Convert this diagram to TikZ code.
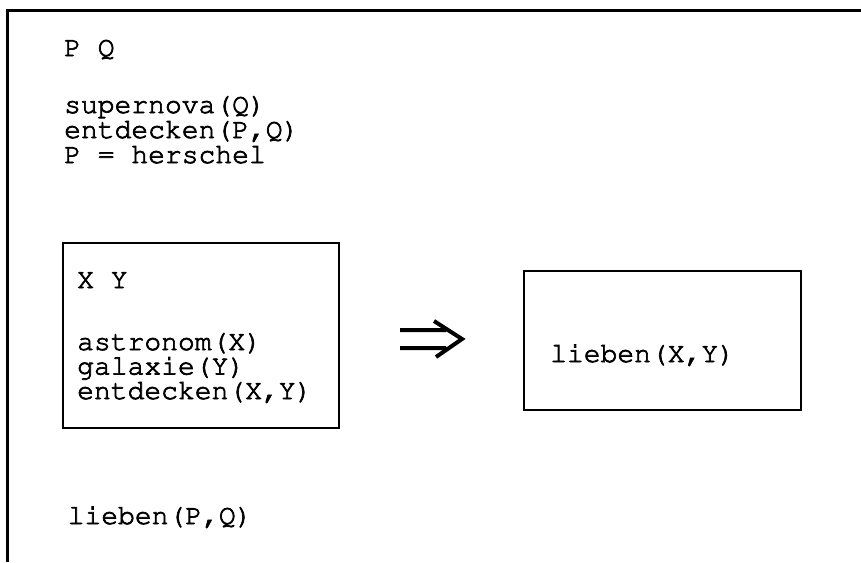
\documentclass[tikz,border=0pt]{standalone}
\usepackage[T1]{fontenc}
\usepackage{courier}
\usetikzlibrary{positioning}
\tikzset{drsbox/.style={draw,line width=2.2pt,inner sep=0pt,anchor=north west},
	drstext/.style={font=\ttfamily\fontsize{28}{24.8}\selectfont,inner sep=0pt,anchor=base west,
		execute at begin node={\special{pdf:literal direct 2 Tr 0.7 w}},
		execute at end node={\special{pdf:literal direct 0 Tr}}},
	implies/.style={line width=4pt}}

\begin{document}
\begin{tikzpicture}[x=1pt,y=-1pt]
\useasboundingbox (0,0) rectangle (861,562);
\draw[line width=3pt] (7,562) -- (7,10) -- (861,10);
\node[drstext] (univ) at (64,56) {P Q};
\node[drstext] (cond1) at (64,113) {supernova(Q)};
\node[drstext] (cond2) at (64,138) {entdecken(P,Q)};
\node[drstext] (cond3) at (64,163) {P = herschel};
\node[drsbox,minimum width=276pt,minimum height=185pt] (ante) at (62,242) {};
\node[drstext] (anteU) at (77,288) {X Y};
\node[drstext] (ante1) at (77,350) {astronom(X)};
\node[drstext] (ante2) at (77,374.5) {galaxie(Y)};
\node[drstext] (ante3) at (77,399) {entdecken(X,Y)};
\draw[implies] (400,330) -- (446,330) (400,348) -- (446,348)
  (434,321) -- (462,339) -- (436,357);
\node[drsbox,minimum width=277pt,minimum height=139pt] (cons) at (523,270) {};
\node[drstext] (cons1) at (550,362) {lieben(X,Y)};
\node[drstext] (cond4) at (67.5,524) {lieben(P,Q)};
\end{tikzpicture}
\end{document}
